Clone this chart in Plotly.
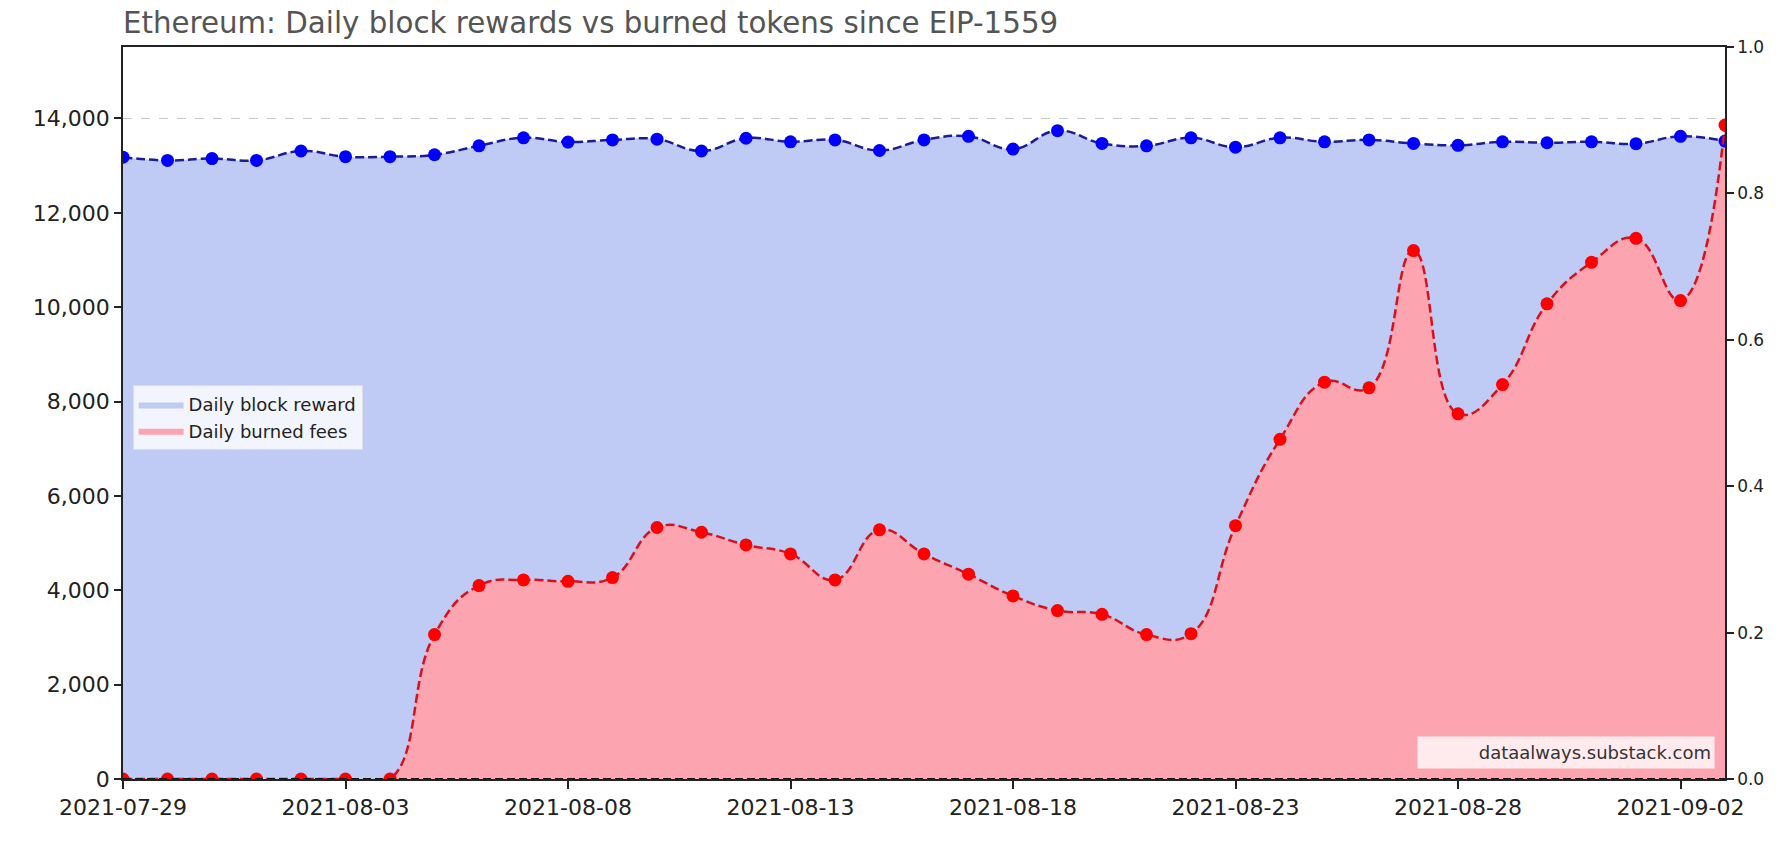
import pandas as pd
import plotly.graph_objects as go

dates = pd.date_range("2021-07-29", "2021-09-03", freq="D")

block_reward = [13180, 13110, 13150, 13110, 13310, 13190, 13190, 13230, 13420, 13590,
                13500, 13545, 13560, 13310, 13580, 13505, 13545, 13320, 13545, 13620,
                13350, 13740, 13470, 13420, 13590, 13390, 13590, 13505, 13545, 13470,
                13430, 13505, 13485, 13505, 13465, 13620, 13520]

burned_fees = [0, 0, 0, 0, 0, 0, 0, 3060, 4100, 4220,
               4190, 4270, 5330, 5230, 4960, 4770, 4220, 5280, 4770, 4340,
               3880, 3570, 3490, 3060, 3080, 5370, 7200, 8410, 8290, 11200,
               7740, 8360, 10070, 10950, 11460, 10140, 13860]

tick_dates = ["2021-07-29", "2021-08-03", "2021-08-08", "2021-08-13", "2021-08-18",
              "2021-08-23", "2021-08-28", "2021-09-02"]

FONT = "DejaVu Sans"
BLUE_FILL = "#bfcaf5"
RED_FILL = "#fca5b1"

fig = go.Figure()

# filled areas (legend entries)
fig.add_trace(go.Scatter(x=dates, y=block_reward, mode="lines", name="Daily block reward",
                         line=dict(width=0, shape="spline", smoothing=1.3, color=BLUE_FILL),
                         fill="tozeroy", fillcolor=BLUE_FILL))
fig.add_trace(go.Scatter(x=dates, y=burned_fees, mode="lines", name="Daily burned fees",
                         line=dict(width=0, shape="spline", smoothing=1.3, color=RED_FILL),
                         fill="tozeroy", fillcolor=RED_FILL))
# dashed lines with markers
fig.add_trace(go.Scatter(x=dates, y=block_reward, mode="lines+markers", showlegend=False,
                         line=dict(width=2.5, dash="9px,4px", shape="spline", smoothing=1.3,
                                   color="#1c1c96"),
                         marker=dict(size=13, color="#0000ff")))
fig.add_trace(go.Scatter(x=dates, y=burned_fees, mode="lines+markers", showlegend=False,
                         line=dict(width=2.5, dash="9px,4px", shape="spline", smoothing=1.3,
                                   color="#d8101c"),
                         marker=dict(size=13, color="#ff0000")))
# empty trace to host the right axis
fig.add_trace(go.Scatter(x=[], y=[], yaxis="y2", showlegend=False, hoverinfo="skip"))

fig.add_shape(type="line", xref="paper", x0=0, x1=1, yref="y", y0=0, y1=0,
              line=dict(color="#111111", width=2, dash="8px,4px"))

fig.update_layout(
    width=1784, height=867,
    margin=dict(l=123, r=59, t=47, b=88),
    paper_bgcolor="white", plot_bgcolor="white",
    font=dict(family=FONT, color="#222222"),
    title=dict(text="Ethereum: Daily block rewards vs burned tokens since EIP-1559",
               font=dict(family=FONT, size=29.3, color="#555555"),
               x=123 / 1784, xanchor="left", xref="container",
               y=1 - 23 / 867, yanchor="middle"),
    xaxis=dict(range=["2021-07-29", "2021-09-03"], type="date",
               tickvals=tick_dates, ticktext=tick_dates,
               showgrid=False, zeroline=False,
               showline=True, linecolor="#222222", linewidth=1.5, mirror=True,
               ticks="outside", ticklen=8, tickcolor="#222222", tickwidth=1.5,
               tickfont=dict(size=22, color="#222222")),
    yaxis=dict(range=[0, 15514], tickvals=[0, 2000, 4000, 6000, 8000, 10000, 12000, 14000],
               tickformat=",d", showgrid=True, gridcolor="#c8c8c8", griddash="dash",
               gridwidth=1, zeroline=False,
               showline=True, linecolor="#222222", linewidth=1.5, mirror=True,
               ticks="outside", ticklen=7, tickcolor="#222222", tickwidth=1.5,
               tickfont=dict(size=22, color="#222222")),
    yaxis2=dict(range=[0, 1], overlaying="y", side="right", anchor="x",
                tickvals=[0, 0.2, 0.4, 0.6, 0.8, 1.0], tickformat=".1f",
                showgrid=False, zeroline=False, showline=True, linecolor="#222222",
                linewidth=1.5, ticks="outside", ticklen=7, tickcolor="#222222",
                tickwidth=1.5, tickfont=dict(size=17, color="#222222")),
    legend=dict(x=0.006, y=0.538, xanchor="left", yanchor="top",
                bgcolor="rgba(255,255,255,0.8)", bordercolor="#dddddd", borderwidth=1,
                font=dict(family=FONT, size=18, color="#222222"),
                itemwidth=45, tracegroupgap=2),
    showlegend=True,
)

fig.add_annotation(text="dataalways.substack.com", xref="paper", yref="paper",
                   x=0.9938, y=0.0137, xanchor="right", yanchor="bottom",
                   showarrow=False, align="right", width=290, height=25,
                   bgcolor="rgba(255,255,255,0.78)", borderpad=3,
                   font=dict(family=FONT, size=18, color="#333333"))

fig.write_html("out.html")
